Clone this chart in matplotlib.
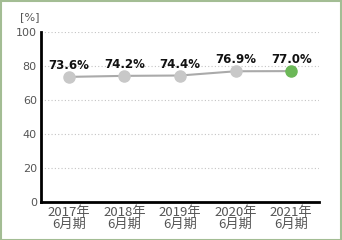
import matplotlib
matplotlib.use("Agg")
import matplotlib.pyplot as plt
from matplotlib.patches import Rectangle

categories = ["2017年\n6月期", "2018年\n6月期", "2019年\n6月期", "2020年\n6月期", "2021年\n6月期"]
values = [73.6, 74.2, 74.4, 76.9, 77.0]
labels = ["73.6%", "74.2%", "74.4%", "76.9%", "77.0%"]
yticks = [0, 20, 40, 60, 80, 100]

plt.rcParams['font.family'] = ['Noto Sans CJK JP', 'DejaVu Sans']

fig = plt.figure(figsize=(3.42, 2.40), dpi=100)
ax = fig.add_axes([41/342, 38/240, 278/342, 170/240])

x = list(range(len(values)))
ax.plot(x, values, color="#aaaaaa", lw=1.5, zorder=2)
colors = ["#c8c8c8"] * (len(values) - 1) + ["#6cb858"]
for xi, v, c, lab in zip(x, values, colors, labels):
    ax.plot([xi], [v], 'o', ms=8, color=c, mec=c, zorder=3)
    ax.annotate(lab, (xi, v), xytext=(0, 3.5), textcoords="offset points",
                ha="center", va="bottom", fontsize=8.5, fontweight="bold",
                color="#111111", family=['DejaVu Sans'])

ax.set_xlim(-0.5, len(values) - 0.5)
ax.set_ylim(0, 100)
ax.set_yticks(yticks)
ax.set_yticklabels([str(t) for t in yticks], family=['DejaVu Sans'])
ax.set_yticks([0, 100], minor=True)
ax.set_xticks(x)
ax.set_xticklabels(categories, linespacing=0.85)
for yv in yticks[1:]:
    ax.axhline(yv, color="#c4c4c4", lw=0.8, ls=(0, (1, 2)), zorder=1)

for s in ["top", "right"]:
    ax.spines[s].set_visible(False)
ax.spines["left"].set_linewidth(2)
ax.spines["bottom"].set_linewidth(2)
ax.tick_params(axis="both", which="major", length=0, labelcolor="#555555")
ax.tick_params(axis="y", which="major", labelsize=8, pad=3)
ax.tick_params(axis="x", which="major", labelsize=9.5, pad=3)
ax.tick_params(axis="y", which="minor", length=3, width=1, color="black")

fig.text(20/342, 1 - 17/240, "[%]", fontsize=8, color="#555555", va="center", ha="left",
         family=['DejaVu Sans'])

fig.patches.append(Rectangle((0.5/342, 0.5/240), 1 - 1.5/342, 1 - 1.5/240, transform=fig.transFigure,
                             fill=False, ec="#a3bd94", lw=1.5))

fig.savefig("out.png", dpi=100)
